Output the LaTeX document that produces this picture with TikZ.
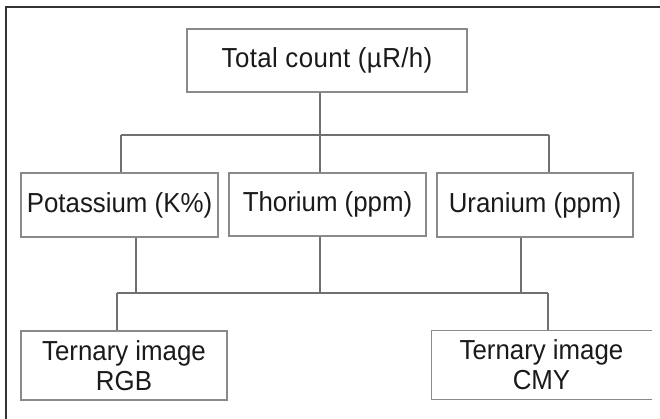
\documentclass[tikz,border=0pt]{standalone}
\usepackage{fontspec}
\setmainfont{Liberation Sans}[FakeStretch=0.94]
\definecolor{boxgray}{HTML}{8A8A8A}
\definecolor{linegray}{HTML}{707070}
\definecolor{framegray}{HTML}{333333}
\definecolor{txt}{HTML}{1A1A1A}
\begin{document}
\begin{tikzpicture}[x=1pt,y=-1pt,
  box/.style={draw=boxgray,line width=1.3pt,inner sep=0pt,align=center,
    text=txt,font=\fontsize{27.5}{30}\selectfont},
  conn/.style={draw=linegray,line width=1.2pt},
  frame/.style={draw=framegray,line width=2pt}]
\useasboundingbox (0,0) rectangle (660,419);
% outer frame (top and left visible)
\coordinate (ftl) at (6,7);
\coordinate (ftr) at (661,7);
\coordinate (fbl) at (6,420);
\draw[frame] (ftr) -- (ftl) -- (fbl);
% nodes
\node[box,minimum width=280pt,minimum height=63pt] (total) at (327,60.5) {\addfontfeature{LetterSpace=1.5}Total count (µR/h)};
\node[box,minimum width=197pt,minimum height=64pt] (pot) at (119.5,205) {Potassium (K\%)};
\node[box,minimum width=197pt,minimum height=63pt] (tho) at (327.5,204.5) {Thorium (ppm)};
\node[box,minimum width=196pt,minimum height=64pt] (ura) at (535,205) {Uranium (ppm)};
\node[box,minimum width=206pt,minimum height=69pt] (rgb) at (124,365.5) {Ternary image\\RGB};
\node[box,draw=none,minimum width=219pt,minimum height=68pt] (cmy) at (541.5,365) {Ternary image\\CMY};
\draw[draw=boxgray,line width=1.3pt] (cmy.north east) -- (cmy.north west) -- (cmy.south west) -- (cmy.south east);
% junction coordinates
\coordinate (j1) at (320,135);
\coordinate (jl) at (121,135);
\coordinate (jr) at (549,135);
\coordinate (k1) at (320,293);
\coordinate (kl) at (117,293);
\coordinate (kr) at (548,293);
\coordinate (pk) at (136,293);
\coordinate (uk) at (521,293);
% upper connectors
\draw[conn] (total.south -| j1) -- (j1);
\draw[conn] (jl) -- (jr);
\draw[conn] (j1) -- (tho.north -| j1);
\draw[conn] (jl) -- (pot.north -| jl);
\draw[conn] (jr) -- (ura.north -| jr);
% lower connectors
\draw[conn] (pot.south -| pk) -- (pk);
\draw[conn] (tho.south -| k1) -- (k1);
\draw[conn] (ura.south -| uk) -- (uk);
\draw[conn] (kl) -- (kr);
\draw[conn] (kl) -- (rgb.north -| kl);
\draw[conn] (kr) -- (cmy.north -| kr);
\end{tikzpicture}
\end{document}
